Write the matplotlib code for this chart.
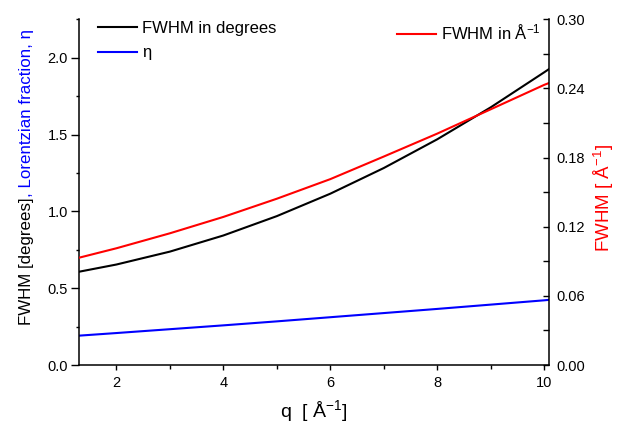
import matplotlib
matplotlib.use("Agg")
import matplotlib.pyplot as plt
from matplotlib.ticker import MultipleLocator, FormatStrFormatter

plt.rcParams['font.family'] = ['Liberation Sans', 'DejaVu Sans']
plt.rcParams['mathtext.fontset'] = 'custom'
plt.rcParams['mathtext.rm'] = 'Liberation Sans'
plt.rcParams['mathtext.it'] = 'Liberation Sans:italic'

# Peak width parameters versus scattering vector q
q = [1.3, 2, 3, 4, 5, 6, 7, 8, 9, 10, 10.09]
fwhm_deg = [0.607, 0.654, 0.738, 0.843, 0.969, 1.115, 1.282, 1.469, 1.677, 1.905, 1.926]
fwhm_inv_A = [0.0931, 0.1013, 0.1143, 0.1285, 0.1443, 0.1613, 0.1809, 0.2008, 0.2219, 0.2431, 0.2447]
eta = [0.191, 0.208, 0.233, 0.258, 0.284, 0.311, 0.338, 0.365, 0.393, 0.421, 0.424]

W, H = 617, 423
fig = plt.figure(figsize=(W / 100, H / 100), dpi=100)
ax = fig.add_axes([79 / W, 1 - 365 / H, (549 - 79) / W, (365 - 19.3) / H])
ax2 = ax.twinx()

l_black, = ax.plot(q, fwhm_deg, color='black', lw=1.5, label='FWHM in degrees')
l_blue, = ax.plot(q, eta, color='#0000ff', lw=1.5, label='\u03b7')
l_red, = ax2.plot(q, fwhm_inv_A, color='#ff0000', lw=1.5, label='FWHM in \u00c5$^{-1}$')

ax.set_xlim(1.3, 10.09)
ax.set_ylim(0, 2.25)
ax2.set_ylim(0, 0.30)

for s in ('top', 'right'):
    ax.spines[s].set_visible(False)
for s in ('top', 'left', 'bottom'):
    ax2.spines[s].set_visible(False)
for sp in (ax.spines['left'], ax.spines['bottom'], ax2.spines['right']):
    sp.set_linewidth(1.1)

ax.xaxis.set_major_locator(MultipleLocator(2))
ax.xaxis.set_minor_locator(MultipleLocator(1))
ax.yaxis.set_major_locator(MultipleLocator(0.5))
ax.yaxis.set_minor_locator(MultipleLocator(0.25))
ax.yaxis.set_major_formatter(FormatStrFormatter('%.1f'))
ax2.yaxis.set_major_locator(MultipleLocator(0.06))
ax2.yaxis.set_minor_locator(MultipleLocator(0.03))
ax2.yaxis.set_major_formatter(FormatStrFormatter('%.2f'))

ax.tick_params(axis='y', which='major', direction='out', length=5.8, width=1.0, pad=2.2, labelsize=10.5)
ax.tick_params(axis='y', which='minor', direction='out', length=2.5, width=1.0)
ax.tick_params(axis='x', which='major', direction='out', length=3.6, width=1.0, pad=4.5, labelsize=10.5)
ax.tick_params(axis='x', which='minor', direction='out', length=3.0, width=1.0)
ax2.tick_params(axis='y', which='both', direction='in', length=4.0, width=1.0, pad=5.5, labelsize=10.5)

leg1 = ax.legend(handles=[l_black, l_blue], loc='upper left',
                 bbox_to_anchor=(98.3 / W, 1 - 20.5 / H), bbox_transform=fig.transFigure,
                 frameon=False, borderpad=0, borderaxespad=0, handlelength=2.34,
                 handletextpad=0.3, labelspacing=0.6, prop={'size': 12})
leg2 = ax2.legend(handles=[l_red], loc='upper left',
                  bbox_to_anchor=(397.3 / W, 1 - 23.3 / H), bbox_transform=fig.transFigure,
                  frameon=False, borderpad=0, borderaxespad=0, handlelength=2.34,
                  handletextpad=0.27, prop={'size': 12})

# Axis titles
fig.text(314 / W, 1 - 416.7 / H, 'q  [ \u00c5$^{-1}$]', fontsize=14,
         ha='center', va='baseline')
fig.text(609.5 / W, 1 - 251.7 / H, 'FWHM [ \u00c5$^{-1}$]', fontsize=13.5, color='#ff0000',
         rotation=90, rotation_mode='anchor', ha='left', va='baseline')

t_black = fig.text(31.5 / W, 1 - 325 / H, 'FWHM [degrees]', fontsize=12.2, color='black',
                   rotation=90, rotation_mode='anchor', ha='left', va='baseline')
fig.canvas.draw()
ext = t_black.get_window_extent(fig.canvas.get_renderer())
fig.text(31.5 / W, 1 - (325 - ext.height) / H, ', Lorentzian fraction, \u03b7', fontsize=12.2,
         color='#0000ff', rotation=90, rotation_mode='anchor', ha='left', va='baseline')

fig.savefig('out.png', dpi=100)
